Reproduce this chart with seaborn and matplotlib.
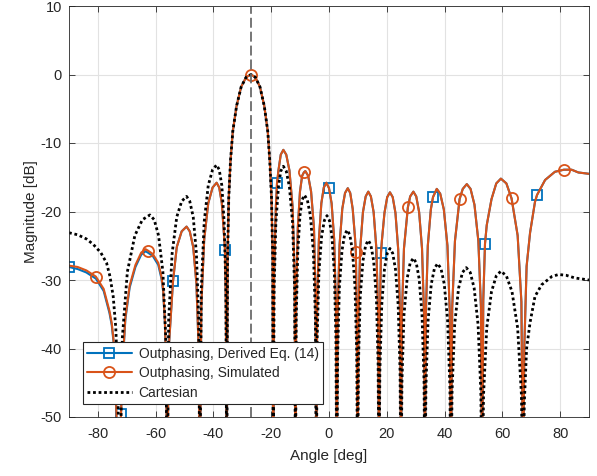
import numpy as np
import seaborn as sns
import matplotlib.pyplot as plt

# ---- data (angle in deg, magnitude in dB) ----
steer_angle = -27.0

op_angle = [
    -90.0, -87.0, -84.0, -80.7, -78.0, -77.0, -76.0, -75.2, -74.6, -74.0, -73.4, -72.6,
    -72.0, -71.4, -70.5, -69.0, -67.0, -65.0, -63.5, -62.7, -61.0, -59.1, -58.0, -57.4, -56.8, -56.4, -56.0,
    -55.5, -54.0, -52.7, -51.0, -49.3, -48.2, -47.0, -45.9, -45.1, -44.7,
    -44.2, -43.2, -41.8, -40.3, -38.9, -38.0, -37.1, -36.3, -36.0, -35.7, -35.4,
    -35.1, -34.7, -34.1, -33.3, -32.0, -30.4, -28.7, -27.0, -25.5, -23.9, -22.4, -21.2, -20.5, -19.9, -19.5, -19.3,
    -19.0, -18.4, -18.0, -17.5, -16.7, -15.8, -14.8, -13.7, -12.6, -11.9, -11.6,
    -11.35, -10.8, -10.05, -9.3, -8.7, -8.2, -7.2, -6.2, -5.2, -4.65, -4.4,
    -4.1, -3.5, -2.65, -1.8, -0.9, 0.0, 0.9, 1.8, 2.4, 2.7,
    3.0, 3.65, 4.6, 5.55, 6.5, 7.35, 8.2, 9.0, 9.3, 9.6, 9.9,
    10.2, 10.8, 11.75, 12.7, 13.6, 14.5, 15.45, 16.4, 17.0, 17.3,
    17.6, 18.0, 18.3, 19.2, 20.15, 21.1, 22.05, 23.0, 23.95, 24.6, 24.9,
    25.25, 25.95, 27.3, 28.1, 29.2, 30.2, 31.2, 32.2, 32.9, 33.2,
    33.55, 34.2, 35.25, 36.0, 37.3, 38.5, 39.75, 41.0, 41.8, 42.2,
    42.65, 43.6, 45.2, 46.3, 47.7, 49.0, 50.35, 51.7, 52.6, 53.0,
    53.4, 54.0, 54.6, 56.25, 57.9, 59.5, 61.4, 63.2, 65.3, 66.6, 67.2,
    67.6, 68.4, 69.6, 71.3, 72.0, 74.8, 78.2, 81.3, 84.0, 86.3, 90.0,
]
sim_db = [
    -27.9, -28.1, -28.6, -29.5, -31.3, -32.9, -34.5, -36.3, -38.7, -44.0, -52.0, -62.0,
    -49.6, -42.0, -35.5, -30.8, -27.8, -26.0, -25.5, -25.7, -26.2, -27.5, -29.5, -31.4, -36.0, -42.0, -62.0,
    -40.2, -30.2, -25.2, -22.9, -22.2, -22.9, -25.2, -30.5, -40.2, -62.0,
    -33.8, -24.1, -18.8, -16.5, -15.8, -16.5, -18.8, -23.6, -25.6, -33.8, -62.0,
    -26.6, -18.0, -12.6, -8.3, -4.6, -1.8, -0.4, 0.0, -0.4, -1.8, -4.6, -8.3, -12.6, -18.0, -26.6, -62.0,
    -29.0, -19.3, -15.9, -14.0, -11.7, -11.0, -11.7, -14.0, -19.3, -29.0, -62.0,
    -32.1, -22.4, -17.1, -14.8, -14.3, -14.1, -14.8, -17.1, -22.4, -32.1, -62.0,
    -33.8, -24.1, -18.8, -16.5, -15.8, -16.6, -18.8, -24.1, -33.8, -62.0,
    -34.6, -24.9, -19.6, -17.3, -16.6, -17.3, -19.6, -23.8, -25.9, -34.6, -62.0,
    -35.1, -25.4, -20.1, -17.8, -17.1, -17.8, -20.1, -25.4, -35.1, -62.0,
    -35.2, -26.0, -24.3, -20.2, -17.9, -17.2, -17.9, -20.2, -25.5, -35.2, -62.0,
    -35.1, -25.4, -19.4, -17.8, -17.1, -17.8, -20.1, -25.4, -35.1, -62.0,
    -34.7, -25.0, -19.7, -17.9, -16.7, -17.4, -19.7, -25.0, -34.7, -62.0,
    -34.0, -24.3, -18.2, -16.7, -16.0, -16.7, -19.0, -24.3, -34.0, -62.0,
    -33.0, -24.7, -22.0, -18.2, -15.9, -15.2, -15.9, -18.1, -23.5, -33.2, -62.0,
    -40.0, -28.0, -23.1, -18.6, -17.6, -15.4, -14.2, -13.9, -13.9, -14.3, -14.5,
]
# derived curve sits under the simulated one; it only differs on the two leftmost lobes
derived_left_db = [
    -28.1, -28.4, -28.9, -29.8, -31.6, -33.2, -34.8, -36.6, -39.0, -44.5, -52.5, -62.0,
    -49.6, -42.3, -35.8, -31.1, -28.1, -26.3, -25.8, -26.0, -26.5, -27.8, -29.8, -31.7, -36.3, -42.3, -62.0,
]
derived_db = derived_left_db + sim_db[len(derived_left_db):]

cart_angle = [
    -90.0, -87.0, -84.0, -81.6, -79.0, -77.0, -75.8, -74.7, -73.8, -73.2, -72.4,
    -71.55, -69.8, -67.2, -64.6, -62.0, -60.5, -59.0, -57.5, -56.5, -56.0,
    -55.5, -54.3, -52.7, -51.0, -49.3, -48.2, -47.0, -45.9, -45.1, -44.7,
    -44.2, -43.2, -41.8, -40.3, -38.9, -38.0, -37.1, -36.3, -35.7, -35.4,
    -35.1, -34.7, -34.1, -33.3, -32.0, -30.4, -28.7, -27.0, -25.5, -23.9, -22.4, -21.2, -20.5, -19.9, -19.5, -19.3,
    -19.0, -18.4, -17.5, -16.7, -15.8, -14.8, -13.7, -12.6, -11.9, -11.6,
    -11.35, -10.8, -10.05, -9.3, -8.5, -7.5, -6.45, -5.4, -4.7, -4.4,
    -4.1, -3.5, -2.55, -1.6, -0.7, 0.15, 1.0, 1.85, 2.4, 2.7,
    3.0, 3.6, 4.5, 5.4, 6.3, 7.2, 8.1, 9.0, 9.6, 9.9,
    10.2, 10.8, 11.75, 12.7, 13.6, 14.5, 15.45, 16.4, 17.0, 17.3,
    17.6, 18.25, 19.2, 20.15, 21.1, 22.05, 23.0, 23.95, 24.6, 24.9,
    25.25, 25.95, 27.05, 28.1, 29.2, 30.2, 31.2, 32.2, 32.9, 33.2,
    33.55, 34.3, 35.4, 36.5, 37.6, 38.75, 39.9, 41.05, 41.85, 42.2,
    42.6, 43.5, 44.85, 46.2, 47.5, 48.9, 50.25, 51.6, 52.55, 53.0,
    53.5, 54.6, 56.25, 57.9, 59.5, 61.4, 63.35, 65.3, 66.6, 67.2,
    67.6, 68.4, 69.6, 71.3, 73.6, 77.1, 79.4, 82.0, 85.1, 90.0,
]
cart_db = [
    -23.1, -23.4, -24.0, -24.8, -26.0, -27.5, -29.5, -32.4, -37.0, -44.0, -62.0,
    -38.5, -28.8, -23.5, -21.2, -20.5, -21.2, -23.5, -28.8, -38.5, -62.0,
    -35.8, -26.1, -20.8, -18.5, -17.8, -18.5, -20.8, -26.1, -35.8, -62.0,
    -31.2, -21.5, -16.2, -13.9, -13.2, -13.9, -16.2, -21.5, -31.2, -62.0,
    -26.6, -18.0, -12.6, -8.3, -4.6, -1.8, -0.4, 0.0, -0.4, -1.8, -4.6, -8.3, -12.6, -18.0, -26.6, -62.0,
    -31.4, -21.7, -16.4, -14.1, -13.4, -14.1, -16.4, -21.7, -31.4, -62.0,
    -35.6, -25.9, -20.6, -18.3, -17.6, -18.3, -20.6, -25.9, -35.6, -62.0,
    -38.6, -28.9, -23.6, -21.3, -20.6, -21.3, -23.6, -28.9, -38.6, -62.0,
    -40.7, -31.0, -25.7, -23.4, -22.7, -23.4, -25.7, -31.0, -40.7, -62.0,
    -42.2, -32.5, -27.2, -24.9, -24.2, -24.9, -27.2, -32.5, -42.2, -62.0,
    -43.4, -33.7, -28.4, -26.1, -25.4, -26.1, -28.4, -33.7, -43.4, -62.0,
    -44.8, -35.1, -29.8, -27.5, -26.8, -27.5, -29.8, -35.1, -44.8, -62.0,
    -45.6, -35.9, -30.6, -28.3, -27.6, -28.3, -30.6, -35.9, -45.6, -62.0,
    -46.2, -36.5, -31.2, -28.9, -28.2, -28.9, -31.2, -36.5, -46.2, -62.0,
    -46.7, -37.0, -31.7, -29.4, -28.7, -29.4, -31.7, -37.0, -46.7, -62.0,
    -48.0, -40.0, -36.2, -32.4, -30.7, -29.5, -29.2, -29.3, -29.7, -30.0,
]

derived_marks = [-90.0, -72.0, -54.0, -36.0, -18.0, 0.0, 18.0, 36.0, 54.0, 72.0]
sim_marks = [-80.7, -62.7, -44.7, -27.0, -8.7, 9.3, 27.3, 45.2, 63.2, 81.3]

assert len(op_angle) == len(sim_db) == len(derived_db)
assert len(cart_angle) == len(cart_db)

# ---- style ----
sns.set_style("whitegrid")
plt.rcParams['font.family'] = ['Liberation Sans', 'DejaVu Sans']
plt.rcParams['axes.unicode_minus'] = False

blue = '#0072BD'
orange = '#D95319'
ink = '#262626'


def mark_idx(angles, picks):
    return list(np.flatnonzero(np.isin(angles, picks)))


fig, ax = plt.subplots(figsize=(5.97, 4.76), dpi=100)
fig.subplots_adjust(left=69 / 597, right=589 / 597, bottom=1 - 417 / 476, top=1 - 6 / 476)

sns.lineplot(x=op_angle, y=derived_db, ax=ax, sort=False, estimator=None,
             color=blue, linewidth=1.5, marker='s', markersize=7,
             markevery=mark_idx(op_angle, derived_marks),
             markerfacecolor='none', markeredgecolor=blue, markeredgewidth=1.3,
             label='Outphasing, Derived Eq. (14)')
sns.lineplot(x=op_angle, y=sim_db, ax=ax, sort=False, estimator=None,
             color=orange, linewidth=1.5, marker='o', markersize=8,
             markevery=mark_idx(op_angle, sim_marks),
             markerfacecolor='none', markeredgecolor=orange, markeredgewidth=1.3,
             label='Outphasing, Simulated')
sns.lineplot(x=cart_angle, y=cart_db, ax=ax, sort=False, estimator=None,
             color='black', linewidth=2, linestyle=(0, (1, 1)),
             label='Cartesian')
ax.axvline(steer_angle, color='0.42', linewidth=1.3, linestyle=(0, (5.5, 2.2)))

ax.set_xlim(-90, 90)
ax.set_ylim(-50, 10)
ax.set_xticks(range(-80, 81, 20))
ax.set_yticks(range(-50, 11, 10))
ax.grid(True, color='#e2e2e2', linewidth=0.8)
ax.set_axisbelow(True)
for s in ax.spines.values():
    s.set_visible(True)
    s.set_color(ink)
    s.set_linewidth(0.6)
ax.tick_params(axis='both', direction='in', length=4, width=0.6, color=ink,
               labelcolor=ink, labelsize=10.5, bottom=True, top=True, left=True, right=True)
ax.tick_params(axis='x', pad=7)
ax.tick_params(axis='y', pad=5)
ax.set_xlabel('Angle [deg]', fontsize=11, color=ink, labelpad=6)
ax.set_ylabel('Magnitude [dB]', fontsize=11, color=ink, labelpad=2)

leg = ax.legend(loc='lower left', bbox_to_anchor=(0.027, 0.032), borderaxespad=0,
                frameon=True, fancybox=False, framealpha=1, edgecolor=ink,
                fontsize=10, handlelength=3.2, handletextpad=0.5,
                labelspacing=0.4, borderpad=0.3, numpoints=1)
leg.get_frame().set_linewidth(0.8)
for ln in leg.get_lines():
    ln.set_markevery([1])

fig.savefig('out.png', dpi=100)
